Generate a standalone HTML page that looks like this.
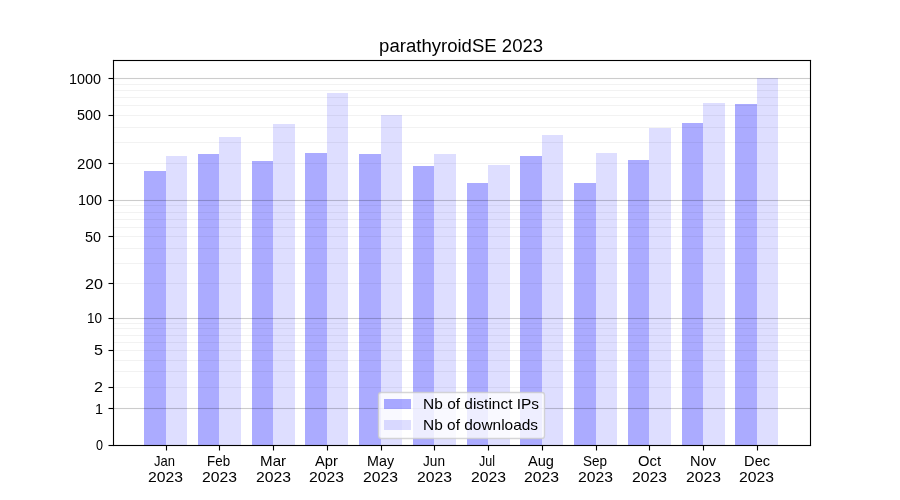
<!DOCTYPE html>
<html lang="en"><head><meta charset="utf-8"><title>parathyroidSE 2023</title>
<style>html,body{margin:0;padding:0;background:#fff;overflow:hidden}body{position:relative;width:900px;height:500px}svg{display:block;position:absolute;left:0;top:0}svg.t{will-change:transform;transform:translateZ(0)}text{font-family:"Liberation Sans",sans-serif;fill:#000}</style></head><body>
<svg width="900" height="500" viewBox="0 0 900 500">
<rect width="900" height="500" fill="#fff"/>
<g shape-rendering="crispEdges">
<g fill="rgba(0,0,255,0.33)">
<rect x="144" y="171" width="22" height="274"/>
<rect x="198" y="154" width="21" height="291"/>
<rect x="252" y="161" width="21" height="284"/>
<rect x="305" y="153" width="22" height="292"/>
<rect x="359" y="154" width="22" height="291"/>
<rect x="413" y="166" width="21" height="279"/>
<rect x="467" y="183" width="21" height="262"/>
<rect x="520" y="156" width="22" height="289"/>
<rect x="574" y="183" width="22" height="262"/>
<rect x="628" y="160" width="21" height="285"/>
<rect x="682" y="123" width="21" height="322"/>
<rect x="735" y="104" width="22" height="341"/>
</g>
<g fill="rgba(0,0,255,0.13)">
<rect x="166" y="156" width="21" height="289"/>
<rect x="219" y="137" width="22" height="308"/>
<rect x="273" y="124" width="22" height="321"/>
<rect x="327" y="93" width="21" height="352"/>
<rect x="381" y="115" width="21" height="330"/>
<rect x="434" y="154" width="22" height="291"/>
<rect x="488" y="165" width="22" height="280"/>
<rect x="542" y="135" width="21" height="310"/>
<rect x="596" y="153" width="21" height="292"/>
<rect x="649" y="128" width="22" height="317"/>
<rect x="703" y="103" width="22" height="342"/>
<rect x="757" y="78" width="21" height="367"/>
</g>
</g>
<g fill="rgba(0,0,0,0.2)">
<rect x="113.5" y="77.9444" width="697" height="1.1111"/>
<rect x="113.5" y="199.9444" width="697" height="1.1111"/>
<rect x="113.5" y="317.9444" width="697" height="1.1111"/>
<rect x="113.5" y="407.9444" width="697" height="1.1111"/>
</g>
<g fill="rgba(0,0,0,0.05)">
<rect x="113.5" y="83.9444" width="697" height="1.1111"/>
<rect x="113.5" y="89.9444" width="697" height="1.1111"/>
<rect x="113.5" y="96.9444" width="697" height="1.1111"/>
<rect x="113.5" y="104.9444" width="697" height="1.1111"/>
<rect x="113.5" y="114.9444" width="697" height="1.1111"/>
<rect x="113.5" y="126.9444" width="697" height="1.1111"/>
<rect x="113.5" y="141.9444" width="697" height="1.1111"/>
<rect x="113.5" y="162.9444" width="697" height="1.1111"/>
<rect x="113.5" y="204.9444" width="697" height="1.1111"/>
<rect x="113.5" y="211.9444" width="697" height="1.1111"/>
<rect x="113.5" y="218.9444" width="697" height="1.1111"/>
<rect x="113.5" y="226.9444" width="697" height="1.1111"/>
<rect x="113.5" y="235.9444" width="697" height="1.1111"/>
<rect x="113.5" y="247.9444" width="697" height="1.1111"/>
<rect x="113.5" y="262.9444" width="697" height="1.1111"/>
<rect x="113.5" y="282.9444" width="697" height="1.1111"/>
<rect x="113.5" y="322.9444" width="697" height="1.1111"/>
<rect x="113.5" y="327.9444" width="697" height="1.1111"/>
<rect x="113.5" y="334.9444" width="697" height="1.1111"/>
<rect x="113.5" y="341.9444" width="697" height="1.1111"/>
<rect x="113.5" y="349.9444" width="697" height="1.1111"/>
<rect x="113.5" y="359.9444" width="697" height="1.1111"/>
<rect x="113.5" y="370.9444" width="697" height="1.1111"/>
<rect x="113.5" y="386.9444" width="697" height="1.1111"/>
</g>
<rect x="378.5" y="392.5" width="166" height="46" rx="2.8" ry="2.8" fill="rgba(255,255,255,0.8)" stroke="rgba(204,204,204,0.8)" stroke-width="1.389"/>
<g shape-rendering="crispEdges">
<rect x="384" y="399" width="27" height="10" fill="rgba(0,0,255,0.33)"/>
<rect x="384" y="420" width="27" height="10" fill="rgba(0,0,255,0.13)"/>
</g>
<g fill="#000">
<rect x="112.9444" y="59.9444" width="698.1111" height="1.1111"/><rect x="112.9444" y="444.9444" width="698.1111" height="1.1111"/>
<rect x="112.9444" y="59.9444" width="1.1111" height="386.1111"/><rect x="809.9444" y="59.9444" width="1.1111" height="386.1111"/>
</g>
<g fill="#000">
<rect x="108.5" y="444.9444" width="4.5" height="1.1111"/>
<rect x="108.5" y="407.9444" width="4.5" height="1.1111"/>
<rect x="108.5" y="386.9444" width="4.5" height="1.1111"/>
<rect x="108.5" y="349.9444" width="4.5" height="1.1111"/>
<rect x="108.5" y="317.9444" width="4.5" height="1.1111"/>
<rect x="108.5" y="282.9444" width="4.5" height="1.1111"/>
<rect x="108.5" y="235.9444" width="4.5" height="1.1111"/>
<rect x="108.5" y="199.9444" width="4.5" height="1.1111"/>
<rect x="108.5" y="162.9444" width="4.5" height="1.1111"/>
<rect x="108.5" y="114.9444" width="4.5" height="1.1111"/>
<rect x="108.5" y="77.9444" width="4.5" height="1.1111"/>
<rect x="165.9444" y="446" width="1.1111" height="4.5"/>
<rect x="218.9444" y="446" width="1.1111" height="4.5"/>
<rect x="272.9444" y="446" width="1.1111" height="4.5"/>
<rect x="326.9444" y="446" width="1.1111" height="4.5"/>
<rect x="380.9444" y="446" width="1.1111" height="4.5"/>
<rect x="433.9444" y="446" width="1.1111" height="4.5"/>
<rect x="487.9444" y="446" width="1.1111" height="4.5"/>
<rect x="541.9444" y="446" width="1.1111" height="4.5"/>
<rect x="595.9444" y="446" width="1.1111" height="4.5"/>
<rect x="648.9444" y="446" width="1.1111" height="4.5"/>
<rect x="702.9444" y="446" width="1.1111" height="4.5"/>
<rect x="756.9444" y="446" width="1.1111" height="4.5"/>
</g>
</svg>
<svg class="t" width="900" height="500" viewBox="0 0 900 500">
<g>
<text x="379.10" y="51.60" font-size="18.00" text-anchor="start" textLength="164.00" lengthAdjust="spacingAndGlyphs">parathyroidSE 2023</text>
<text x="96.00" y="450.00" font-size="14.50" text-anchor="start" textLength="7.00" lengthAdjust="spacingAndGlyphs">0</text>
<text x="95.10" y="414.00" font-size="14.50" text-anchor="start" textLength="8.00" lengthAdjust="spacingAndGlyphs">1</text>
<text x="94.10" y="392.00" font-size="14.50" text-anchor="start" textLength="9.00" lengthAdjust="spacingAndGlyphs">2</text>
<text x="94.10" y="355.00" font-size="14.50" text-anchor="start" textLength="9.00" lengthAdjust="spacingAndGlyphs">5</text>
<text x="87.10" y="323.00" font-size="14.50" text-anchor="start" textLength="15.00" lengthAdjust="spacingAndGlyphs">10</text>
<text x="85.10" y="289.00" font-size="14.50" text-anchor="start" textLength="18.00" lengthAdjust="spacingAndGlyphs">20</text>
<text x="85.10" y="242.00" font-size="14.50" text-anchor="start" textLength="16.00" lengthAdjust="spacingAndGlyphs">50</text>
<text x="78.10" y="205.00" font-size="14.50" text-anchor="start" textLength="24.00" lengthAdjust="spacingAndGlyphs">100</text>
<text x="77.10" y="169.00" font-size="14.50" text-anchor="start" textLength="25.00" lengthAdjust="spacingAndGlyphs">200</text>
<text x="77.10" y="120.00" font-size="14.50" text-anchor="start" textLength="24.00" lengthAdjust="spacingAndGlyphs">500</text>
<text x="69.10" y="84.00" font-size="14.50" text-anchor="start" textLength="32.00" lengthAdjust="spacingAndGlyphs">1000</text>
<text x="154.00" y="466.00" font-size="14.50" text-anchor="start" textLength="21.00" lengthAdjust="spacingAndGlyphs">Jan</text>
<text x="148.10" y="482.00" font-size="14.50" text-anchor="start" textLength="35.00" lengthAdjust="spacingAndGlyphs">2023</text>
<text x="207.10" y="466.00" font-size="14.50" text-anchor="start" textLength="23.00" lengthAdjust="spacingAndGlyphs">Feb</text>
<text x="202.10" y="482.00" font-size="14.50" text-anchor="start" textLength="35.00" lengthAdjust="spacingAndGlyphs">2023</text>
<text x="260.10" y="466.00" font-size="14.50" text-anchor="start" textLength="26.00" lengthAdjust="spacingAndGlyphs">Mar</text>
<text x="256.10" y="482.00" font-size="14.50" text-anchor="start" textLength="35.00" lengthAdjust="spacingAndGlyphs">2023</text>
<text x="315.00" y="466.00" font-size="14.50" text-anchor="start" textLength="23.00" lengthAdjust="spacingAndGlyphs">Apr</text>
<text x="309.10" y="482.00" font-size="14.50" text-anchor="start" textLength="35.00" lengthAdjust="spacingAndGlyphs">2023</text>
<text x="367.10" y="466.00" font-size="14.50" text-anchor="start" textLength="27.00" lengthAdjust="spacingAndGlyphs">May</text>
<text x="363.10" y="482.00" font-size="14.50" text-anchor="start" textLength="35.00" lengthAdjust="spacingAndGlyphs">2023</text>
<text x="423.00" y="466.00" font-size="14.50" text-anchor="start" textLength="22.00" lengthAdjust="spacingAndGlyphs">Jun</text>
<text x="417.10" y="482.00" font-size="14.50" text-anchor="start" textLength="35.00" lengthAdjust="spacingAndGlyphs">2023</text>
<text x="479.00" y="466.00" font-size="14.50" text-anchor="start" textLength="16.00" lengthAdjust="spacingAndGlyphs">Jul</text>
<text x="471.10" y="482.00" font-size="14.50" text-anchor="start" textLength="35.00" lengthAdjust="spacingAndGlyphs">2023</text>
<text x="528.00" y="466.00" font-size="14.50" text-anchor="start" textLength="26.00" lengthAdjust="spacingAndGlyphs">Aug</text>
<text x="524.10" y="482.00" font-size="14.50" text-anchor="start" textLength="35.00" lengthAdjust="spacingAndGlyphs">2023</text>
<text x="583.10" y="466.00" font-size="14.50" text-anchor="start" textLength="24.00" lengthAdjust="spacingAndGlyphs">Sep</text>
<text x="578.10" y="482.00" font-size="14.50" text-anchor="start" textLength="35.00" lengthAdjust="spacingAndGlyphs">2023</text>
<text x="638.10" y="466.00" font-size="14.50" text-anchor="start" textLength="23.00" lengthAdjust="spacingAndGlyphs">Oct</text>
<text x="632.10" y="482.00" font-size="14.50" text-anchor="start" textLength="35.00" lengthAdjust="spacingAndGlyphs">2023</text>
<text x="690.10" y="466.00" font-size="14.50" text-anchor="start" textLength="26.00" lengthAdjust="spacingAndGlyphs">Nov</text>
<text x="686.10" y="482.00" font-size="14.50" text-anchor="start" textLength="35.00" lengthAdjust="spacingAndGlyphs">2023</text>
<text x="744.10" y="466.00" font-size="14.50" text-anchor="start" textLength="26.00" lengthAdjust="spacingAndGlyphs">Dec</text>
<text x="739.10" y="482.00" font-size="14.50" text-anchor="start" textLength="35.00" lengthAdjust="spacingAndGlyphs">2023</text>
<text x="423.10" y="409.00" font-size="14.50" text-anchor="start" textLength="116.00" lengthAdjust="spacingAndGlyphs">Nb of distinct IPs</text>
<text x="423.10" y="430.00" font-size="14.50" text-anchor="start" textLength="115.00" lengthAdjust="spacingAndGlyphs">Nb of downloads</text>
</g>
</svg></body></html>
